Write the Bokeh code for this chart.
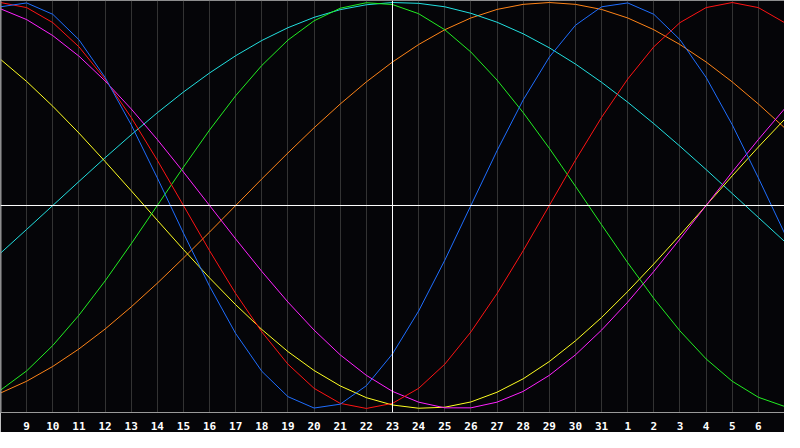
from bokeh.plotting import figure
from bokeh.models import Span, FixedTicker
from bokeh.embed import file_html
from bokeh.resources import INLINE

# days shown along the bottom, one per column (8th of the month to the 7th of the next)
day_labels = [8, 9, 10, 11, 12, 13, 14, 15, 16, 17, 18, 19, 20, 21, 22, 23,
              24, 25, 26, 27, 28, 29, 30, 31, 1, 2, 3, 4, 5, 6, 7]
day_pos = list(range(len(day_labels)))
today = 15  # the 23rd, white line

# cycle values, one per day (-1 .. 1)
physical = [0.979, 0.998, 0.942, 0.817, 0.631, 0.398, 0.136, -0.136, -0.398, -0.631,
            -0.817, -0.942, -0.998, -0.979, -0.888, -0.731, -0.520, -0.270, 0.000, 0.270,
            0.520, 0.731, 0.888, 0.979, 0.998, 0.942, 0.817, 0.631, 0.398, 0.136, -0.136]
emotional = [1.000, 0.975, 0.901, 0.782, 0.623, 0.434, 0.223, 0.000, -0.223, -0.434,
             -0.623, -0.782, -0.901, -0.975, -1.000, -0.975, -0.901, -0.782, -0.623, -0.434,
             -0.223, 0.000, 0.223, 0.434, 0.623, 0.782, 0.901, 0.975, 1.000, 0.975, 0.901]
intellectual = [-0.910, -0.815, -0.690, -0.541, -0.372, -0.189, 0.000, 0.189, 0.372, 0.541,
                0.690, 0.815, 0.910, 0.972, 0.999, 0.990, 0.945, 0.866, 0.756, 0.618,
                0.458, 0.282, 0.095, -0.095, -0.282, -0.458, -0.618, -0.756, -0.866, -0.945, -0.990]
intuitive = [0.969, 0.916, 0.837, 0.736, 0.614, 0.476, 0.325, 0.165, 0.000, -0.165,
             -0.325, -0.476, -0.614, -0.736, -0.837, -0.916, -0.969, -0.997, -0.997, -0.969,
             -0.916, -0.837, -0.736, -0.614, -0.476, -0.325, -0.165, 0.000, 0.165, 0.325, 0.476]
aesthetic = [0.720, 0.611, 0.489, 0.357, 0.217, 0.073, -0.073, -0.217, -0.357, -0.489,
             -0.611, -0.720, -0.813, -0.889, -0.947, -0.983, -0.999, -0.994, -0.968, -0.920,
             -0.854, -0.769, -0.667, -0.552, -0.424, -0.288, -0.146, 0.000, 0.146, 0.288, 0.424]
awareness = [-0.924, -0.866, -0.793, -0.707, -0.609, -0.500, -0.383, -0.259, -0.131, 0.000,
             0.131, 0.259, 0.383, 0.500, 0.609, 0.707, 0.793, 0.866, 0.924, 0.966,
             0.991, 1.000, 0.991, 0.966, 0.924, 0.866, 0.793, 0.707, 0.609, 0.500, 0.383]
spiritual = [-0.235, -0.118, 0.000, 0.118, 0.235, 0.348, 0.457, 0.559, 0.653, 0.738,
             0.813, 0.876, 0.927, 0.965, 0.989, 1.000, 0.996, 0.979, 0.947, 0.903,
             0.846, 0.777, 0.697, 0.607, 0.509, 0.403, 0.292, 0.177, 0.059, -0.059, -0.177]

series = [
    (awareness, "#ff8418"),
    (spiritual, "#22e0e0"),
    (aesthetic, "#ffff22"),
    (intuitive, "#ff22ff"),
    (intellectual, "#22ee22"),
    (emotional, "#ff1414"),
    (physical, "#1f6eff"),
]

bg = "#050508"
border = "#9a9a9a"

p = figure(width=784, height=432, output_backend="svg", toolbar_location=None,
           x_range=(0, 30), y_range=(-1.02, 1.01), y_axis_location=None,
           min_border_left=0, min_border_right=0, min_border_top=0, min_border_bottom=20)
p.background_fill_color = bg
p.border_fill_color = bg
p.outline_line_color = None

p.xaxis.ticker = FixedTicker(ticks=day_pos[1:-1])
p.xaxis.major_label_overrides = {i: str(d) for i, d in zip(day_pos, day_labels)}
p.xaxis.axis_line_color = border
p.xaxis.major_tick_line_color = None
p.xaxis.minor_tick_line_color = None
p.xaxis.major_label_standoff = 3
p.xaxis.major_label_text_color = "white"
p.xaxis.major_label_text_font = "DejaVu Sans Mono"
p.xaxis.major_label_text_font_style = "bold"
p.xaxis.major_label_text_font_size = "11px"

p.xgrid.grid_line_color = "#333333"
p.ygrid.grid_line_color = None

# frame edges (top, left) and the two white guide lines
p.add_layout(Span(location=1.01, dimension="width", line_color=border, line_width=1))
p.add_layout(Span(location=0, dimension="height", line_color=border, line_width=2))
p.add_layout(Span(location=0, dimension="width", line_color="white", line_width=1))
p.add_layout(Span(location=today, dimension="height", line_color="white", line_width=1))

for vals, col in series:
    p.line(day_pos, vals, line_color=col, line_width=1)

open("out.html", "w").write(file_html(p, INLINE))
